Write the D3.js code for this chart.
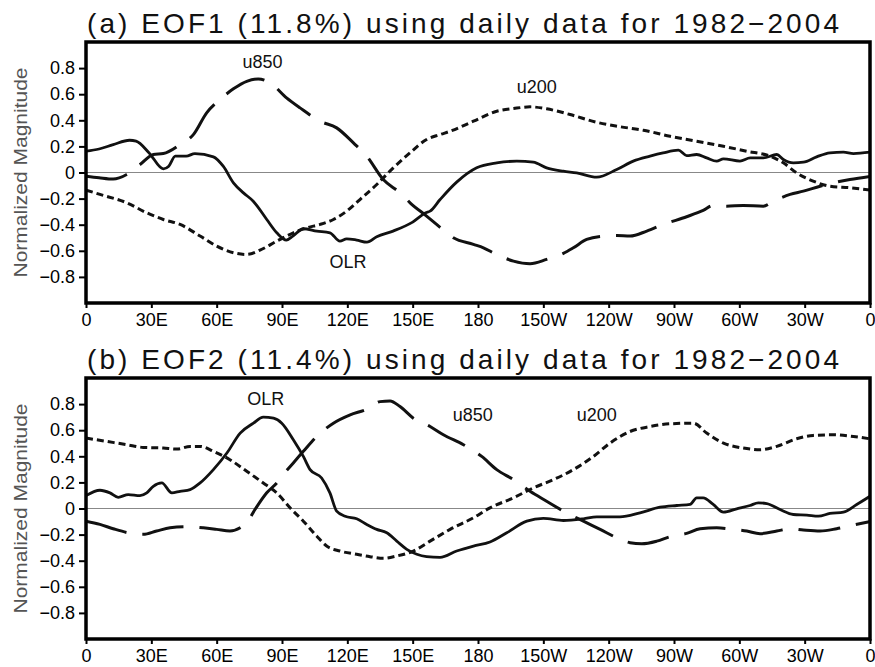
<!DOCTYPE html>
<html>
<head>
<meta charset="utf-8">
<script src="https://cdn.jsdelivr.net/npm/d3@7"></script>
<style>
  body { margin: 0; background: #fff; }
  svg { display: block; font-family: "Liberation Sans", Arial, sans-serif; }
  .frame { fill: none; stroke: #000; stroke-width: 3.5; }
  .zero { stroke: #888; stroke-width: 1.2; }
  .line { fill: none; stroke: #111; stroke-width: 3; stroke-linejoin: round; }
  .line-olr { stroke-width: 2.8; }
  .line-u850 { stroke-dasharray: 42 16; }
  .line-u200 { stroke-dasharray: 7 4; }
  .axis path { display: none; }
  .axis line { stroke: #000; stroke-width: 2; }
  .axis text { font-size: 18px; fill: #000; font-family: "Liberation Sans", Arial, sans-serif; }
  .title { font-size: 28px; fill: #111; }
  .ylab { font-size: 19px; fill: #555; }
  .tag { font-size: 18px; fill: #111; }
</style>
</head>
<body>
<script>
// longitude ticks, 0 -> 360 eastward
const lonTicks = [0, 30, 60, 90, 120, 150, 180, 210, 240, 270, 300, 330, 360];
const lonLabels = ["0", "30E", "60E", "90E", "120E", "150E", "180", "150W", "120W", "90W", "60W", "30W", "0"];
const magTicks = [-0.8, -0.6, -0.4, -0.2, 0, 0.2, 0.4, 0.6, 0.8];

// EOF1 structures [lon, normalized magnitude]
const olr1 = [[0,0.163],[6,0.18],[12.5,0.214],[20,0.247],[23,0.24],[29,0.15],[35.5,0.028],[38,0.048],[41,0.125],[46,0.125],[50,0.145],[58.5,0.12],[63,0.048],[67.7,-0.079],[72.3,-0.156],[76.8,-0.22],[83,-0.36],[87.6,-0.462],[92,-0.518],[95,-0.487],[99.8,-0.431],[106,-0.449],[112,-0.462],[116.6,-0.526],[119.7,-0.508],[124.3,-0.518],[129,-0.534],[133.5,-0.493],[141,-0.449],[150,-0.38],[156,-0.309],[158,-0.296],[162.6,-0.207],[170.2,-0.074],[179.4,0.036],[188.6,0.074],[197.8,0.087],[205.4,0.079],[211.5,0.036],[219.2,0.01],[225.3,-0.003],[234.5,-0.036],[243.7,0.023],[251.3,0.087],[259,0.125],[265,0.15],[272,0.171],[275.8,0.13],[280.4,0.138],[285,0.112],[289.6,0.087],[292.7,0.105],[300.3,0.087],[305,0.112],[311,0.112],[317.2,0.138],[320.2,0.1],[324.8,0.074],[329.4,0.079],[335.5,0.12],[341.6,0.15],[347.8,0.156],[352.4,0.145],[360,0.156]];
const u850_1 = [[0,-0.028],[6,-0.04],[12.5,-0.05],[18.7,-0.015],[24.8,0.061],[30.9,0.138],[35.5,0.145],[43.2,0.214],[49.3,0.29],[55.4,0.457],[61.5,0.559],[67.7,0.641],[73.8,0.699],[79.1,0.717],[84.5,0.687],[92.1,0.572],[98.3,0.495],[107.5,0.393],[115.1,0.342],[122.8,0.227],[128.9,0.125],[136.5,-0.054],[144.2,-0.156],[148.8,-0.232],[156.4,-0.334],[162.6,-0.42],[168.7,-0.5],[177.9,-0.551],[182.5,-0.577],[188.6,-0.628],[196.3,-0.679],[203.9,-0.699],[211.5,-0.666],[219.2,-0.62],[223.8,-0.577],[229.9,-0.513],[237.6,-0.487],[243.7,-0.482],[249.8,-0.487],[257.5,-0.449],[265.1,-0.398],[275.8,-0.339],[283.4,-0.291],[288,-0.253],[294.1,-0.258],[301.8,-0.253],[311,-0.258],[315.6,-0.22],[323.3,-0.168],[329.4,-0.143],[337.1,-0.105],[343.2,-0.079],[350.8,-0.054],[360,-0.03]];
const u200_1 = [[0,-0.135],[6.4,-0.168],[18.7,-0.232],[27.9,-0.309],[35.5,-0.36],[43.2,-0.398],[52.4,-0.487],[60,-0.564],[67.7,-0.615],[73.8,-0.628],[79.9,-0.595],[87.6,-0.526],[95.2,-0.462],[101.3,-0.424],[107.5,-0.398],[113.6,-0.36],[119.7,-0.296],[125.8,-0.207],[133.5,-0.092],[141.1,0.036],[148.8,0.151],[156.4,0.253],[162.6,0.291],[167.2,0.316],[177.9,0.393],[188.6,0.469],[196.3,0.49],[203.9,0.503],[211.5,0.488],[222.3,0.444],[234.5,0.385],[243.7,0.355],[255.9,0.324],[268.2,0.278],[280.4,0.24],[292.7,0.201],[303.4,0.163],[314.1,0.125],[320.2,0.074],[326.3,-0.003],[333.9,-0.066],[341.6,-0.105],[350.8,-0.117],[360,-0.135]];

// EOF2 structures
const olr2 = [[0,0.099],[6.4,0.14],[11,0.12],[14.8,0.086],[19.4,0.107],[24.8,0.099],[27.9,0.12],[30.9,0.17],[34.8,0.196],[39.4,0.12],[43.2,0.132],[47.8,0.145],[52.4,0.196],[58.5,0.298],[64.7,0.425],[70.8,0.578],[76.9,0.654],[81.4,0.7],[86.1,0.692],[89.9,0.654],[95.2,0.527],[99.8,0.399],[102.9,0.298],[108.2,0.234],[112,0.12],[115.1,-0.02],[119,-0.059],[124.3,-0.079],[128.9,-0.122],[133.5,-0.16],[138.1,-0.186],[142.7,-0.25],[147.3,-0.313],[151.9,-0.351],[156.4,-0.369],[162.6,-0.375],[170.2,-0.326],[177.9,-0.288],[185.5,-0.257],[193.2,-0.186],[202.4,-0.097],[210,-0.076],[219.2,-0.092],[228.4,-0.079],[234.5,-0.064],[245.2,-0.064],[254.4,-0.033],[263.6,0.01],[271.3,0.023],[277.4,0.031],[280.4,0.082],[283.4,0.082],[288,0.031],[292.7,-0.028],[298.8,-0.003],[304.9,0.023],[308.7,0.043],[312.6,0.038],[318.7,-0.008],[324.8,-0.046],[331,-0.051],[336.3,-0.059],[341.6,-0.038],[347.8,-0.028],[353.9,0.031],[360,0.094]];
const u850_2 = [[0,-0.097],[6.4,-0.122],[12.5,-0.155],[19.4,-0.186],[26.3,-0.198],[32.4,-0.173],[38.6,-0.148],[46.2,-0.14],[53.9,-0.148],[60,-0.16],[66.1,-0.173],[70.8,-0.148],[73.8,-0.109],[77.6,-0.008],[83,0.12],[87.6,0.196],[90.6,0.26],[95.2,0.349],[99.8,0.438],[105.9,0.552],[113.6,0.654],[121.3,0.718],[128.9,0.761],[135,0.819],[139.6,0.824],[144.2,0.781],[150.3,0.692],[158,0.628],[164.1,0.565],[173.3,0.489],[181.7,0.399],[188.6,0.298],[196.3,0.221],[203.9,0.132],[211.5,0.056],[219.2,-0.02],[228.4,-0.097],[236.1,-0.16],[243.7,-0.224],[249.8,-0.262],[255.2,-0.27],[262.1,-0.25],[268.2,-0.216],[275.8,-0.191],[282,-0.155],[289.6,-0.148],[297.2,-0.16],[303.4,-0.173],[309.5,-0.193],[317.2,-0.173],[323.3,-0.155],[329.4,-0.165],[337.1,-0.173],[344.7,-0.155],[352.4,-0.127],[360,-0.1]];
const u200_2 = [[0,0.54],[9.5,0.514],[18.7,0.489],[26.3,0.468],[35.5,0.463],[41.7,0.455],[47.8,0.476],[52.4,0.476],[58.5,0.438],[66.1,0.374],[73.8,0.285],[81.4,0.196],[87.6,0.12],[93.7,0.005],[99.8,-0.097],[105.9,-0.211],[110.5,-0.288],[116.6,-0.326],[124.3,-0.351],[130.4,-0.369],[136.5,-0.382],[142.7,-0.364],[150.3,-0.326],[158,-0.25],[167.2,-0.16],[177.9,-0.071],[185.5,0.005],[196.3,0.082],[205.4,0.158],[214.6,0.221],[223.8,0.298],[233,0.399],[240.6,0.501],[249.8,0.59],[259,0.628],[268.2,0.649],[278.9,0.654],[285,0.578],[292.7,0.501],[301.8,0.463],[309.5,0.45],[317.2,0.476],[326.3,0.534],[333.9,0.56],[343.2,0.565],[352.4,0.552],[360,0.534]];

const width = 875, height = 667;
const svg = d3.select("body").append("svg")
  .attr("width", width)
  .attr("height", height);
svg.append("rect").attr("width", width).attr("height", height).attr("fill", "#fff");

const xScale = d3.scaleLinear().domain([0, 360]).range([86, 870]);

function panel(id, title, top, bottom, series, tags) {
  const yScale = d3.scaleLinear().domain([-1, 1]).range([bottom, top]);
  const g = svg.append("g").attr("class", "panel-" + id);

  g.append("defs").append("clipPath").attr("id", "clip-" + id)
    .append("rect")
    .attr("x", xScale(0)).attr("y", top)
    .attr("width", xScale(360) - xScale(0)).attr("height", bottom - top);

  // zero reference line
  g.append("line").attr("class", "zero")
    .attr("x1", xScale(0)).attr("x2", xScale(360))
    .attr("y1", yScale(0)).attr("y2", yScale(0));

  const line = d3.line()
    .x(d => xScale(d[0]))
    .y(d => yScale(d[1]))
    .curve(d3.curveMonotoneX);

  const lines = g.append("g").attr("clip-path", "url(#clip-" + id + ")");
  series.forEach(s => {
    lines.append("path")
      .datum(s.data)
      .attr("class", "line line-" + s.key)
      .attr("d", line);
  });

  const yAxis = d3.axisLeft(yScale)
    .tickValues(magTicks)
    .tickSize(7).tickPadding(4)
    .tickFormat(d => d === 0 ? "0" : d3.format(".1f")(d));
  g.append("g").attr("class", "axis")
    .attr("transform", "translate(" + xScale(0) + ",0)")
    .call(yAxis);

  const xAxis = d3.axisBottom(xScale)
    .tickValues(lonTicks)
    .tickSize(5).tickPadding(5)
    .tickFormat((d, i) => lonLabels[i]);
  g.append("g").attr("class", "axis")
    .attr("transform", "translate(0," + bottom + ")")
    .call(xAxis);

  g.append("rect").attr("class", "frame")
    .attr("x", xScale(0)).attr("y", top)
    .attr("width", xScale(360) - xScale(0)).attr("height", bottom - top);

  g.append("text").attr("class", "title")
    .attr("x", 87).attr("y", top - 9)
    .attr("textLength", 752).attr("lengthAdjust", "spacing")
    .text(title);

  g.append("text").attr("class", "ylab")
    .attr("transform", "translate(27," + yScale(0) + ") rotate(-90)")
    .attr("text-anchor", "middle")
    .attr("textLength", 210).attr("lengthAdjust", "spacingAndGlyphs")
    .text("Normalized Magnitude");

  tags.forEach(t => {
    g.append("text").attr("class", "tag")
      .attr("x", xScale(t.lon)).attr("y", yScale(t.mag))
      .attr("text-anchor", "middle").attr("dy", "0.35em")
      .text(t.text);
  });
}

panel("a", "(a) EOF1 (11.8%) using daily data for 1982\u22122004", 42, 303,
  [{key: "olr", data: olr1}, {key: "u850", data: u850_1}, {key: "u200", data: u200_1}],
  [{text: "u850", lon: 81, mag: 0.85}, {text: "u200", lon: 207, mag: 0.656}, {text: "OLR", lon: 120.3, mag: -0.68}]);

panel("b", "(b) EOF2 (11.4%) using daily data for 1982\u22122004", 378, 639,
  [{key: "olr", data: olr2}, {key: "u850", data: u850_2}, {key: "u200", data: u200_2}],
  [{text: "OLR", lon: 82.5, mag: 0.845}, {text: "u850", lon: 177.6, mag: 0.718}, {text: "u200", lon: 234.5, mag: 0.718}]);
</script>
</body>
</html>
